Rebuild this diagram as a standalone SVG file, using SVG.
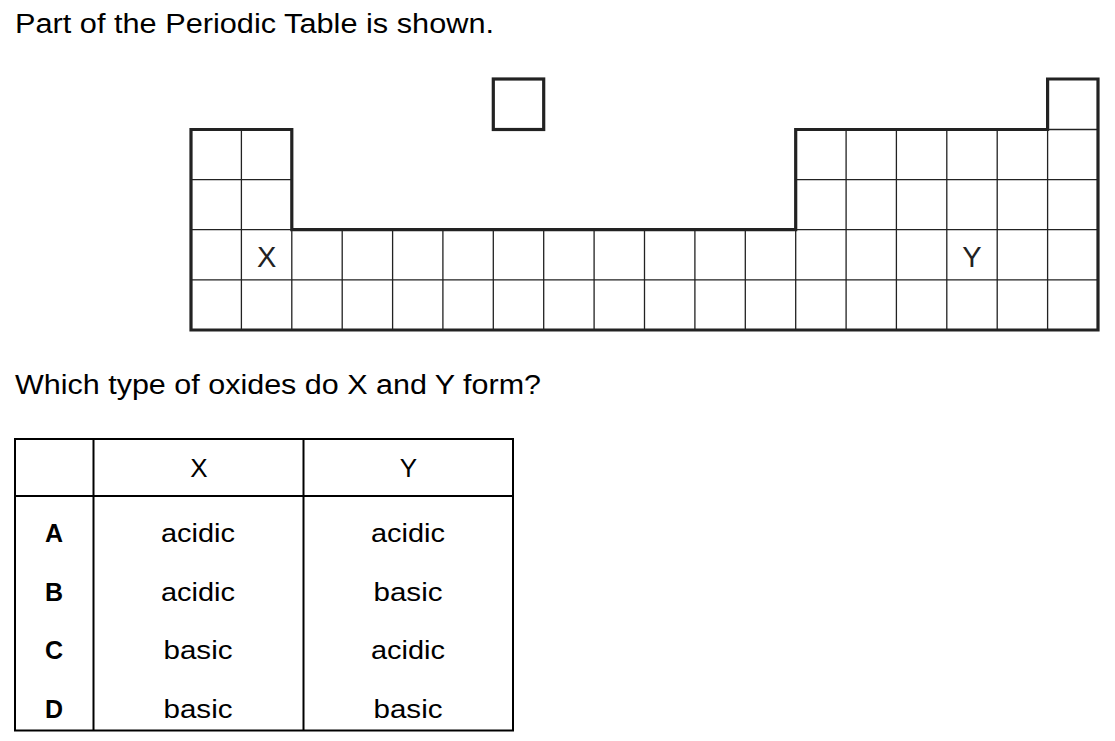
<svg xmlns="http://www.w3.org/2000/svg" width="1115" height="741" viewBox="0 0 1115 741">
<style>
.t{font-family:"Liberation Sans",Arial,sans-serif;fill:#000}
.big{font-size:27px}
.cell{font-size:26px;text-anchor:middle}
.lbl{font-size:25px;font-weight:bold;text-anchor:middle}
.el{font-size:29px;text-anchor:middle;fill:#222}
.thin{stroke:#222;stroke-width:1.3;fill:none}
.thick{stroke:#222;stroke-width:3.2;fill:none;stroke-linejoin:miter}
.tb{stroke:#000;stroke-width:2;fill:none}
</style>
<rect width="1115" height="741" fill="#fff"/>
<text class="t big" x="15" y="32.5" textLength="479" lengthAdjust="spacingAndGlyphs">Part of the Periodic Table is shown.</text>

<g id="periodic-table">
<g id="grid-thin" class="thin">
<path d="M191,179.6H291.8M795.7,179.6H1098M191,229.7H291.8M795.7,229.7H1098M191,279.8H1098M1047.6,129.5H1098"/>
<path d="M241.4,129.5V330M291.8,229.7V330M342.2,229.7V330M392.6,229.7V330M442.9,229.7V330M493.3,229.7V330M543.7,229.7V330M594.1,229.7V330M644.5,229.7V330M694.9,229.7V330M745.3,229.7V330M795.7,229.7V330M846.1,129.5V330M896.4,129.5V330M946.8,129.5V330M997.2,129.5V330M1047.6,129.5V330"/>
</g>
<path id="outline" class="thick" d="M191,129.5H291.8V229.7H795.7V129.5H1047.6V79H1098V330H191Z"/>
<rect id="hydrogen" class="thick" x="493.3" y="79" width="50.4" height="50.5"/>
<text id="label-x" class="t el" x="266.6" y="267">X</text>
<text id="label-y" class="t el" x="972" y="267">Y</text>
</g>

<text class="t big" x="15" y="393.5" textLength="526" lengthAdjust="spacingAndGlyphs">Which type of oxides do X and Y form?</text>

<g id="answer-table">
<rect class="tb" x="15" y="439" width="498" height="291.5"/>
<path class="tb" d="M15,496H513M93.5,439V730.5M303.5,439V730.5"/>
<text class="t cell" x="199" y="477">X</text>
<text class="t cell" x="408.5" y="477">Y</text>
<g id="row-a">
<text class="t lbl" x="54" y="542">A</text>
<text class="t cell" x="198" y="542" textLength="74" lengthAdjust="spacingAndGlyphs">acidic</text>
<text class="t cell" x="408" y="542" textLength="74" lengthAdjust="spacingAndGlyphs">acidic</text>
</g>
<g id="row-b">
<text class="t lbl" x="54" y="600.5">B</text>
<text class="t cell" x="198" y="600.5" textLength="74" lengthAdjust="spacingAndGlyphs">acidic</text>
<text class="t cell" x="408" y="600.5" textLength="69" lengthAdjust="spacingAndGlyphs">basic</text>
</g>
<g id="row-c">
<text class="t lbl" x="54" y="659">C</text>
<text class="t cell" x="198" y="659" textLength="69" lengthAdjust="spacingAndGlyphs">basic</text>
<text class="t cell" x="408" y="659" textLength="74" lengthAdjust="spacingAndGlyphs">acidic</text>
</g>
<g id="row-d">
<text class="t lbl" x="54" y="717.5">D</text>
<text class="t cell" x="198" y="717.5" textLength="69" lengthAdjust="spacingAndGlyphs">basic</text>
<text class="t cell" x="408" y="717.5" textLength="69" lengthAdjust="spacingAndGlyphs">basic</text>
</g>
</g>
</svg>
